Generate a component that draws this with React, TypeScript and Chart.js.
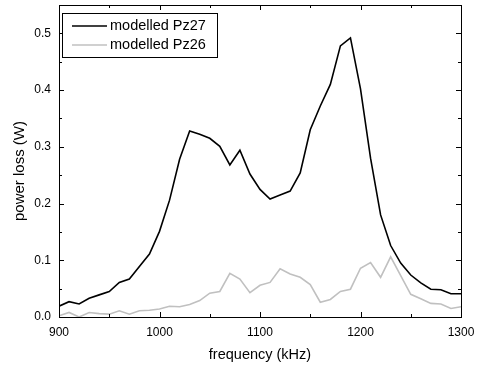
import React, { useEffect, useRef } from "react";
import { Chart, registerables } from "chart.js";

Chart.register(...registerables);

const frequencies = [
  900, 910, 920, 930, 940, 950, 960, 970, 980, 990,
  1000, 1010, 1020, 1030, 1040, 1050, 1060, 1070, 1080, 1090,
  1100, 1110, 1120, 1130, 1140, 1150, 1160, 1170, 1180, 1190,
  1200, 1210, 1220, 1230, 1240, 1250, 1260, 1270, 1280, 1290, 1300,
];

const pz27 = [
  0.019, 0.027, 0.023, 0.033, 0.039, 0.045, 0.061, 0.067, 0.089, 0.111,
  0.151, 0.206, 0.278, 0.328, 0.322, 0.315, 0.301, 0.268, 0.294, 0.252,
  0.225, 0.208, 0.215, 0.222, 0.254, 0.330, 0.372, 0.410, 0.478, 0.492,
  0.402, 0.280, 0.180, 0.126, 0.095, 0.074, 0.060, 0.049, 0.048, 0.041, 0.041,
];

const pz26 = [
  0.002, 0.008, 0.000, 0.008, 0.006, 0.005, 0.011, 0.005, 0.011, 0.012,
  0.014, 0.019, 0.018, 0.022, 0.029, 0.042, 0.045, 0.077, 0.067, 0.043,
  0.056, 0.061, 0.085, 0.076, 0.070, 0.057, 0.026, 0.031, 0.045, 0.049,
  0.086, 0.096, 0.070, 0.106, 0.073, 0.040, 0.032, 0.024, 0.023, 0.015, 0.018,
];

const xMajorTicks = [900, 1000, 1100, 1200, 1300];
const xMinorTicks = [950, 1050, 1150, 1250];
const yMajorTicks = [0, 0.1, 0.2, 0.3, 0.4, 0.5];
const yMinorTicks = [0.05, 0.15, 0.25, 0.35, 0.45];

const xTitle = "frequency (kHz)";
const yTitle = "power loss (W)";

const FONT = "'Liberation Sans', Arial, sans-serif";

const framePlugin = {
  id: "frameTicks",
  afterDatasetsDraw(chart: any) {
    const { ctx, chartArea, scales } = chart;
    const { left, right, top, bottom } = chartArea;
    const xs = scales.x;
    const ys = scales.y;
    ctx.save();
    ctx.strokeStyle = "#000";
    ctx.lineWidth = 1;
    // frame
    ctx.strokeRect(Math.round(left) + 0.5, Math.round(top) + 0.5, Math.round(right - left), Math.round(bottom - top));
    const major = 5;
    const minor = 3;
    ctx.beginPath();
    const xt = (v: number, len: number) => {
      const px = Math.round(xs.getPixelForValue(v)) + 0.5;
      ctx.moveTo(px, bottom);
      ctx.lineTo(px, bottom - len);
      ctx.moveTo(px, top);
      ctx.lineTo(px, top + len);
    };
    const yt = (v: number, len: number) => {
      const py = Math.round(ys.getPixelForValue(v)) + 0.5;
      ctx.moveTo(left, py);
      ctx.lineTo(left + len, py);
      ctx.moveTo(right, py);
      ctx.lineTo(right - len, py);
    };
    xMajorTicks.forEach((v) => xt(v, major));
    xMinorTicks.forEach((v) => xt(v, minor));
    yMajorTicks.forEach((v) => yt(v, major));
    yMinorTicks.forEach((v) => yt(v, minor));
    ctx.stroke();

    // legend box
    const bx = Math.round(left) + 3;
    const by = Math.round(top) + 8;
    const bw = 155;
    const bh = 44;
    ctx.fillStyle = "#fff";
    ctx.fillRect(bx, by, bw, bh);
    ctx.strokeRect(bx + 0.5, by + 0.5, bw, bh);
    ctx.font = `14.5px ${FONT}`;
    ctx.textBaseline = "middle";
    chart.data.datasets.forEach((ds: any, i: number) => {
      const ly = by + 13 + i * 19;
      ctx.beginPath();
      ctx.strokeStyle = ds.borderColor;
      ctx.lineWidth = 1.5;
      ctx.moveTo(bx + 10, ly);
      ctx.lineTo(bx + 45, ly);
      ctx.stroke();
      ctx.fillStyle = "#000";
      ctx.fillText(ds.label, bx + 48, ly);
    });

    // y-axis title
    ctx.translate(24, 171);
    ctx.rotate(-Math.PI / 2);
    ctx.font = `15px ${FONT}`;
    ctx.fillStyle = "#000";
    ctx.textAlign = "center";
    ctx.textBaseline = "alphabetic";
    ctx.fillText(yTitle, 0, 0);
    ctx.restore();
  },
};

export default function App() {
  const ref = useRef<HTMLCanvasElement>(null);
  useEffect(() => {
    if (!ref.current) return;
    const chart = new Chart(ref.current, {
      type: "line",
      data: {
        datasets: [
          {
            label: "modelled Pz27",
            data: frequencies.map((f, i) => ({ x: f, y: pz27[i] })),
            borderColor: "#000000",
            borderWidth: 1.6,
            pointRadius: 0,
            tension: 0,
          },
          {
            label: "modelled Pz26",
            data: frequencies.map((f, i) => ({ x: f, y: pz26[i] })),
            borderColor: "#c0c0c0",
            borderWidth: 1.6,
            pointRadius: 0,
            tension: 0,
          },
        ],
      },
      options: {
        animation: false,
        responsive: false,
        devicePixelRatio: 1,
        layout: { padding: { top: 5, right: 18, left: 0, bottom: 0 } },
        plugins: { legend: { display: false }, tooltip: { enabled: false } },
        scales: {
          x: {
            type: "linear",
            min: 900,
            max: 1300,
            afterBuildTicks: (s: any) => {
              s.ticks = xMajorTicks.map((v) => ({ value: v }));
            },
            afterFit: (s: any) => {
              s.height = 50;
              s.paddingLeft = 0;
              s.paddingRight = 0;
            },
            grid: { display: false, drawTicks: false },
            border: { display: false },
            ticks: {
              color: "#000",
              padding: 8,
              font: { family: FONT, size: 12 },
              callback: (v: any) => String(v),
            },
            title: {
              display: true,
              text: xTitle,
              color: "#000",
              font: { family: FONT, size: 14.5 },
              padding: { top: 4, bottom: 3 },
            },
          },
          y: {
            type: "linear",
            min: 0,
            max: 0.55,
            afterBuildTicks: (s: any) => {
              s.ticks = yMajorTicks.map((v) => ({ value: v }));
            },
            afterFit: (s: any) => {
              s.width = 59;
              s.paddingTop = 0;
              s.paddingBottom = 0;
            },
            grid: { display: false, drawTicks: false },
            border: { display: false },
            ticks: {
              color: "#000",
              padding: 8,
              font: { family: FONT, size: 12 },
              callback: (v: any) => Number(v).toFixed(1),
            },
            title: { display: false },
          },
        },
      },
      plugins: [framePlugin],
    });
    return () => chart.destroy();
  }, []);
  return (
    <div style={{ position: "fixed", left: 0, top: 0, width: 479, height: 367, background: "#fff" }}>
      <canvas ref={ref} width={479} height={367} style={{ width: 479, height: 367 }} />
    </div>
  );
}
